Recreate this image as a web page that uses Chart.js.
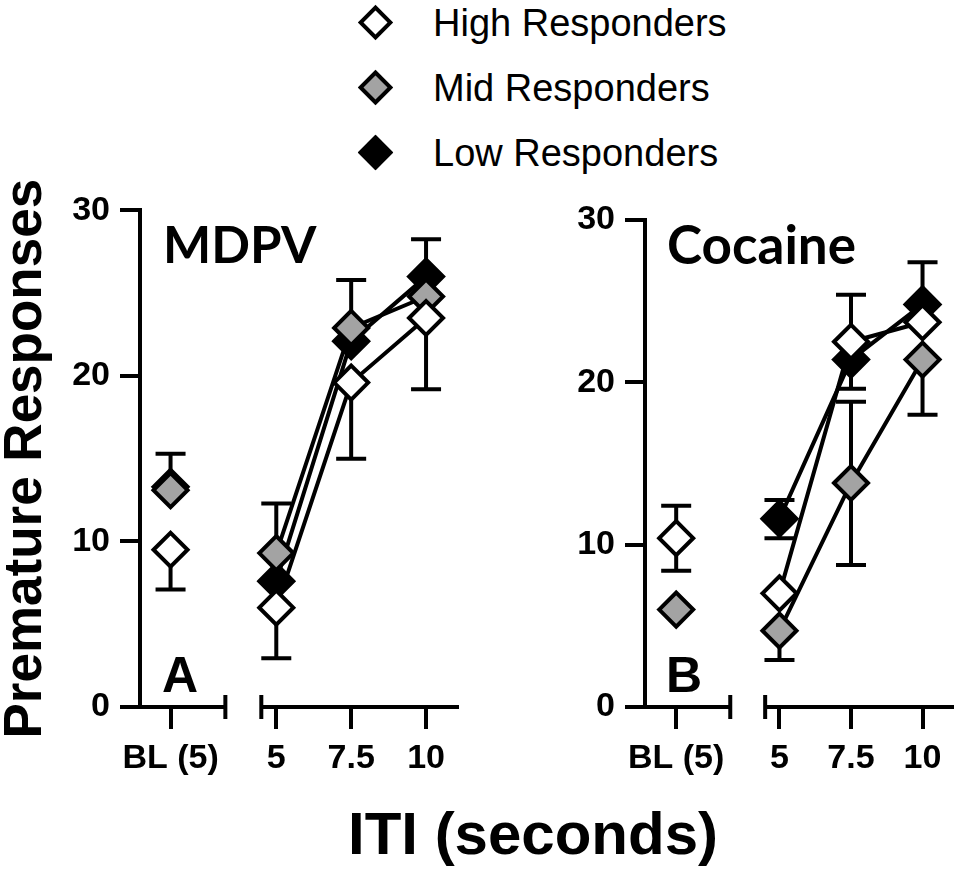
<!DOCTYPE html>
<html lang="en">
  <head>
    <meta charset="UTF-8" />
    <title>Premature responses by ITI</title>
    <script src="https://cdn.jsdelivr.net/npm/chart.js@4.4.0/dist/chart.umd.min.js"></script>
    <style>
      body {
        margin: 0;
        width: 975px;
        height: 869px;
        position: relative;
        overflow: hidden;
        background: #fff;
        font-family: "Liberation Sans", Arial, sans-serif;
        color: #000;
      }

      canvas {
        position: absolute;
        top: 180px;
      }

      #chartA {
        left: 0;
      }

      #chartB {
        left: 480px;
      }

      #legend {
        position: absolute;
        left: 363px;
        top: -10px;
      }

      .legend-row {
        height: 65px;
        display: flex;
        align-items: center;
        font-size: 38px;
        line-height: 1;
      }

      .diamond {
        width: 17px;
        height: 17px;
        border: 4px solid #000;
        transform: rotate(45deg);
        margin-right: 45px;
      }

      .drug {
        position: absolute;
        top: 218px;
        font-family: Lato, sans-serif;
        font-weight: bold;
        font-size: 51px;
        line-height: 1;
      }

      .letter {
        position: absolute;
        top: 650px;
        font-weight: bold;
        font-size: 50px;
        line-height: 1;
      }

      #xTitle {
        position: absolute;
        left: 333px;
        width: 400px;
        top: 804px;
        text-align: center;
        font-weight: bold;
        font-size: 60px;
        line-height: 1;
      }
    </style>
  </head>

  <body>
    <div id="legend"></div>

    <canvas id="chartA" width="480" height="689"></canvas>
    <canvas id="chartB" width="495" height="689"></canvas>

    <div class="drug" style="left: 163px">MDPV</div>
    <div class="drug" style="left: 667px; font-size: 53px; top: 217px">Cocaine</div>
    <div class="letter" style="left: 162px">A</div>
    <div class="letter" style="left: 666px">B</div>
    <div id="xTitle">ITI (seconds)</div>

    <script>
      // categories / tick labels
      const xLabels = ["BL (5)", "5", "7.5", "10"];
      const itiSeconds = [5, 7.5, 10];
      const yTicks = [0, 10, 20, 30];
      const groups = ["High Responders", "Mid Responders", "Low Responders"];
      const fills = ["#ffffff", "#a3a3a3", "#000000"];

      // Panel A - MDPV, means per category (BL, 5, 7.5, 10)
      const mdpvHigh = [9.5, 6.0, 19.6, 23.5];
      const mdpvMid = [13.1, 9.3, 22.9, 24.8];
      const mdpvLow = [13.3, 7.6, 22.1, 26.0];
      // only the half of each error bar that shows in the figure
      const mdpvHighErrUp = [null, null, null, null];
      const mdpvHighErrDown = [2.4, 3.05, 4.6, 4.3];
      const mdpvMidErrUp = [2.2, 3.0, 2.9, null];
      const mdpvMidErrDown = [null, null, null, null];
      const mdpvLowErrUp = [null, null, null, 2.25];
      const mdpvLowErrDown = [null, null, null, null];

      // Panel B - Cocaine
      const cocHigh = [10.4, 7.0, 22.5, 23.7];
      const cocMid = [6.0, 4.7, 13.8, 21.4];
      const cocLow = [null, 11.6, 21.4, 24.8];
      const cocHighErrUp = [2.0, null, 2.9, null];
      const cocHighErrDown = [2.0, null, null, null];
      const cocMidErrUp = [null, null, 5.0, null];
      const cocMidErrDown = [null, 1.8, 5.05, 3.4];
      const cocLowErrUp = [null, 1.15, null, 2.6];
      const cocLowErrDown = [null, 1.2, 1.8, null];

      Chart.defaults.font.family = '"Liberation Sans", Arial, sans-serif';
      Chart.defaults.color = "#000";

      // legend (shared by both panels)
      let legend = document.getElementById("legend");
      groups.forEach((g, i) => {
        let row = document.createElement("div");
        row.className = "legend-row";
        let d = document.createElement("span");
        d.className = "diamond";
        d.style.background = fills[i];
        row.appendChild(d);
        row.appendChild(document.createTextNode(g));
        legend.appendChild(row);
      });

      // error bars + x axis with a break between BL and the ITI values
      const errorBarsAndBreak = {
        id: "errorBarsAndBreak",
        beforeDatasetsDraw(chart, args, opts) {
          const { ctx, chartArea } = chart;
          const x = chart.scales.x;
          const y = chart.scales.y;
          ctx.save();
          ctx.strokeStyle = "#000";
          ctx.lineWidth = 4;
          ctx.lineCap = "butt";

          chart.data.datasets.forEach((ds) => {
            ds.data.forEach((p, j) => {
              if (p.y == null) return;
              const px = x.getPixelForValue(p.x);
              const y0 = y.getPixelForValue(p.y);
              [
                [ds.errUp[j], 1],
                [ds.errDown[j], -1],
              ].forEach(([e, s]) => {
                if (e == null) return;
                const y1 = y.getPixelForValue(p.y + s * e);
                ctx.beginPath();
                ctx.moveTo(px, y0);
                ctx.lineTo(px, y1);
                ctx.moveTo(px - 15, y1);
                ctx.lineTo(px + 15, y1);
                ctx.stroke();
              });
            });
          });

          const b = chartArea.bottom;
          const lo = x.getPixelForValue(opts.breakLo);
          const hi = x.getPixelForValue(opts.breakHi);
          ctx.beginPath();
          ctx.moveTo(chartArea.left - 2, b);
          ctx.lineTo(lo, b);
          ctx.moveTo(lo, b - 12);
          ctx.lineTo(lo, b + 12);
          ctx.moveTo(hi, b - 12);
          ctx.lineTo(hi, b + 12);
          ctx.moveTo(hi, b);
          ctx.lineTo(chartArea.right, b);
          ctx.stroke();
          ctx.restore();
        },
      };

      function makeChart(id, series, errs, ax) {
        const catX = [ax.blX].concat(itiSeconds);
        const datasets = series.map((vals, i) => ({
          label: groups[i],
          data: vals.map((v, j) => ({ x: catX[j], y: v })),
          errUp: errs[i][0],
          errDown: errs[i][1],
          borderColor: "#000",
          borderWidth: 4,
          pointStyle: "rectRot",
          pointRadius: 17,
          pointBorderWidth: 4,
          pointBackgroundColor: fills[i],
          pointBorderColor: "#000",
          segment: {
            // BL is not joined to the ITI points
            borderColor: (c) => (c.p0DataIndex === 0 ? "rgba(0,0,0,0)" : "#000"),
          },
          clip: false,
        }));

        return new Chart(document.getElementById(id), {
          type: "line",
          data: { datasets: datasets },
          plugins: [errorBarsAndBreak],
          options: {
            responsive: false,
            animation: false,
            events: [],
            layout: {
              padding: { top: ax.padTop, right: ax.padRight, left: 0, bottom: 0 },
            },
            plugins: {
              legend: { display: false },
              tooltip: { enabled: false },
              errorBarsAndBreak: { breakLo: ax.breakLo, breakHi: ax.breakHi },
            },
            scales: {
              x: {
                type: "linear",
                min: ax.xMin,
                max: ax.xMax,
                border: { display: false },
                grid: {
                  drawOnChartArea: false,
                  tickLength: 22,
                  lineWidth: 4,
                  color: "#000",
                },
                ticks: {
                  autoSkip: false,
                  maxRotation: 0,
                  padding: 9,
                  font: { size: 34, weight: "bold" },
                  callback: (v, i) => xLabels[i],
                },
                afterBuildTicks: (s) => {
                  s.ticks = catX.map((v) => ({ value: v }));
                },
                afterFit: (s) => {
                  s.height = 162;
                },
              },
              y: {
                min: 0,
                max: 30,
                border: { display: true, width: 4, color: "#000" },
                grid: {
                  drawOnChartArea: false,
                  tickLength: 20,
                  lineWidth: 4,
                  color: "#000",
                },
                ticks: {
                  padding: 10,
                  font: { size: 34, weight: "bold" },
                },
                afterBuildTicks: (s) => {
                  s.ticks = yTicks.map((v) => ({ value: v }));
                },
                afterFit: (s) => {
                  s.width = ax.yWidth;
                },
                title: {
                  display: !!ax.yTitle,
                  text: ax.yTitle || "",
                  padding: 0,
                  font: { size: 53, weight: "bold", lineHeight: 1 },
                },
              },
            },
          },
        });
      }

      makeChart(
        "chartA",
        [mdpvHigh, mdpvMid, mdpvLow],
        [
          [mdpvHighErrUp, mdpvHighErrDown],
          [mdpvMidErrUp, mdpvMidErrDown],
          [mdpvLowErrUp, mdpvLowErrDown],
        ],
        {
          xMin: 0.45,
          xMax: 11.1,
          blX: 1.47,
          breakLo: 3.3,
          breakHi: 4.5,
          yWidth: 140,
          padTop: 29,
          padRight: 7,
          yTitle: "Premature Responses",
        }
      );

      makeChart(
        "chartB",
        [cocHigh, cocMid, cocLow],
        [
          [cocHighErrUp, cocHighErrDown],
          [cocMidErrUp, cocMidErrDown],
          [cocLowErrUp, cocLowErrDown],
        ],
        {
          xMin: 0.3,
          xMax: 11.1,
          blX: 1.39,
          breakLo: 3.28,
          breakHi: 4.5,
          yWidth: 165,
          padTop: 40,
          padRight: 4,
          yTitle: null,
        }
      );
    </script>
  </body>
</html>
